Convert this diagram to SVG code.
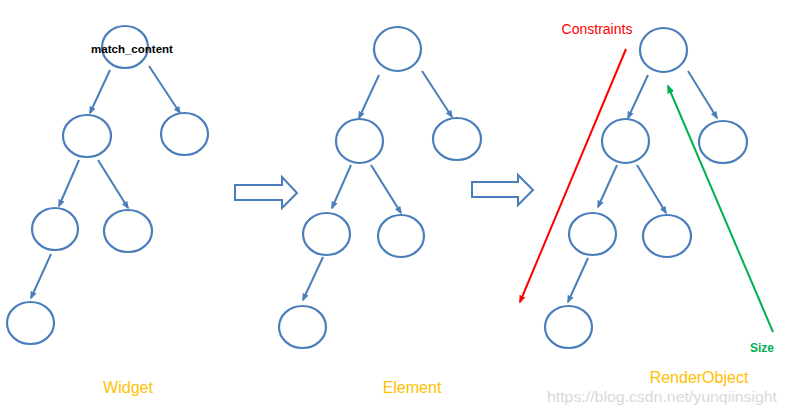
<svg xmlns="http://www.w3.org/2000/svg" width="787" height="412" viewBox="0 0 787 412">
<style>
  .node ellipse { fill: #ffffff; stroke: #4A7EBB; stroke-width: 2.2; }
  .edge { stroke: #4A7EBB; stroke-width: 2; fill: none; marker-end: url(#ab); }
  .block { fill: #ffffff; stroke: #4A7EBB; stroke-width: 2; stroke-linejoin: miter; }
  .title { font-family: "Liberation Sans", Arial, sans-serif; font-size: 16px; fill: #FFC000; text-anchor: middle; }
</style>
<defs>
  <marker id="ab" viewBox="0 0 10 10" refX="8" refY="5" markerWidth="8" markerHeight="8" markerUnits="userSpaceOnUse" orient="auto">
    <path d="M0,1 L10,5 L0,9 Z" fill="#4A7EBB"/>
  </marker>
  <marker id="ar" viewBox="0 0 10 10" refX="8" refY="5" markerWidth="8" markerHeight="8" markerUnits="userSpaceOnUse" orient="auto">
    <path d="M0,1 L10,5 L0,9 Z" fill="#FF0000"/>
  </marker>
  <marker id="ag" viewBox="0 0 10 10" refX="8" refY="5" markerWidth="9" markerHeight="9" markerUnits="userSpaceOnUse" orient="auto">
    <path d="M0,1 L10,5 L0,9 Z" fill="#00B050"/>
  </marker>
</defs>
<rect width="787" height="412" fill="#ffffff"/>

<!-- Widget tree -->
<g id="w-root" class="node"><ellipse cx="125" cy="47" rx="23" ry="21"/>
  <text x="132" y="53" font-family="'Liberation Sans', Arial, sans-serif" font-size="11.5" font-weight="bold" fill="#000000" text-anchor="middle">match_content</text></g>
<g id="w-l" class="node"><ellipse cx="87" cy="136" rx="24" ry="21"/></g>
<g id="w-r" class="node"><ellipse cx="184.5" cy="134" rx="23.5" ry="21"/></g>
<g id="w-ll" class="node"><ellipse cx="55" cy="229" rx="23" ry="21"/></g>
<g id="w-lr" class="node"><ellipse cx="128" cy="231" rx="24" ry="21"/></g>
<g id="w-lll" class="node"><ellipse cx="30.5" cy="323" rx="23.5" ry="21"/></g>

<!-- Element tree -->
<g id="e-root" class="node"><ellipse cx="397.5" cy="49" rx="23.5" ry="22"/></g>
<g id="e-l" class="node"><ellipse cx="359.5" cy="141" rx="23.5" ry="22"/></g>
<g id="e-r" class="node"><ellipse cx="457" cy="139" rx="24" ry="21"/></g>
<g id="e-ll" class="node"><ellipse cx="326.5" cy="234" rx="23.5" ry="21"/></g>
<g id="e-lr" class="node"><ellipse cx="401" cy="236" rx="23" ry="21"/></g>
<g id="e-lll" class="node"><ellipse cx="302.5" cy="327" rx="23.5" ry="21"/></g>

<!-- RenderObject tree -->
<g id="r-root" class="node"><ellipse cx="663.5" cy="50" rx="23.5" ry="22"/></g>
<g id="r-l" class="node"><ellipse cx="625.5" cy="141" rx="23.5" ry="22"/></g>
<g id="r-r" class="node"><ellipse cx="723" cy="142" rx="24" ry="21"/></g>
<g id="r-ll" class="node"><ellipse cx="592.5" cy="234" rx="23.5" ry="21"/></g>
<g id="r-lr" class="node"><ellipse cx="667" cy="236" rx="24" ry="21"/></g>
<g id="r-lll" class="node"><ellipse cx="568.5" cy="327" rx="23.5" ry="21"/></g>

<g id="connectors">
  <line class="edge" x1="110" y1="70" x2="90" y2="113"/>
  <line class="edge" x1="149" y1="66" x2="180" y2="113"/>
  <line class="edge" x1="79" y1="160" x2="59" y2="206"/>
  <line class="edge" x1="98" y1="160" x2="128" y2="208"/>
  <line class="edge" x1="51" y1="254" x2="31" y2="298"/>

  <line class="edge" x1="379" y1="75" x2="359" y2="118"/>
  <line class="edge" x1="422" y1="71" x2="452" y2="117"/>
  <line class="edge" x1="351" y1="165" x2="332" y2="208"/>
  <line class="edge" x1="371" y1="165" x2="401" y2="213"/>
  <line class="edge" x1="323" y1="257" x2="303" y2="300"/>

  <line class="edge" x1="648" y1="75" x2="628" y2="118"/>
  <line class="edge" x1="688" y1="71" x2="717" y2="118"/>
  <line class="edge" x1="617" y1="165" x2="598" y2="207"/>
  <line class="edge" x1="637" y1="165" x2="666" y2="213"/>
  <line class="edge" x1="588" y1="258" x2="568" y2="302"/>

  <line x1="626" y1="49" x2="520" y2="302" stroke="#FF0000" stroke-width="2" marker-end="url(#ar)"/>
  <line x1="773" y1="332" x2="668" y2="86" stroke="#00B050" stroke-width="2" marker-end="url(#ag)"/>

  <path class="block" d="M235,185 L282,185 L282,177 L297,193 L282,208 L282,200 L235,200 Z"/>
  <path class="block" d="M472,182 L518,182 L518,175 L533,190 L518,205 L518,197 L472,197 Z"/>
</g>

<g id="labels">
  <text x="597" y="34" font-family="'Liberation Sans', Arial, sans-serif" font-size="14" fill="#FF0000" text-anchor="middle">Constraints</text>
  <text x="762" y="352" font-family="'Liberation Sans', Arial, sans-serif" font-size="12" font-weight="bold" fill="#00B050" text-anchor="middle">Size</text>
  <text class="title" x="128" y="393">Widget</text>
  <text class="title" x="412" y="393">Element</text>
  <text class="title" x="699" y="383">RenderObject</text>
  <text x="547" y="402" font-family="'Liberation Sans', Arial, sans-serif" font-size="14" fill="#d9d9d9" textLength="230" lengthAdjust="spacingAndGlyphs">https://blog.csdn.net/yunqiinsight</text>
</g>
</svg>
